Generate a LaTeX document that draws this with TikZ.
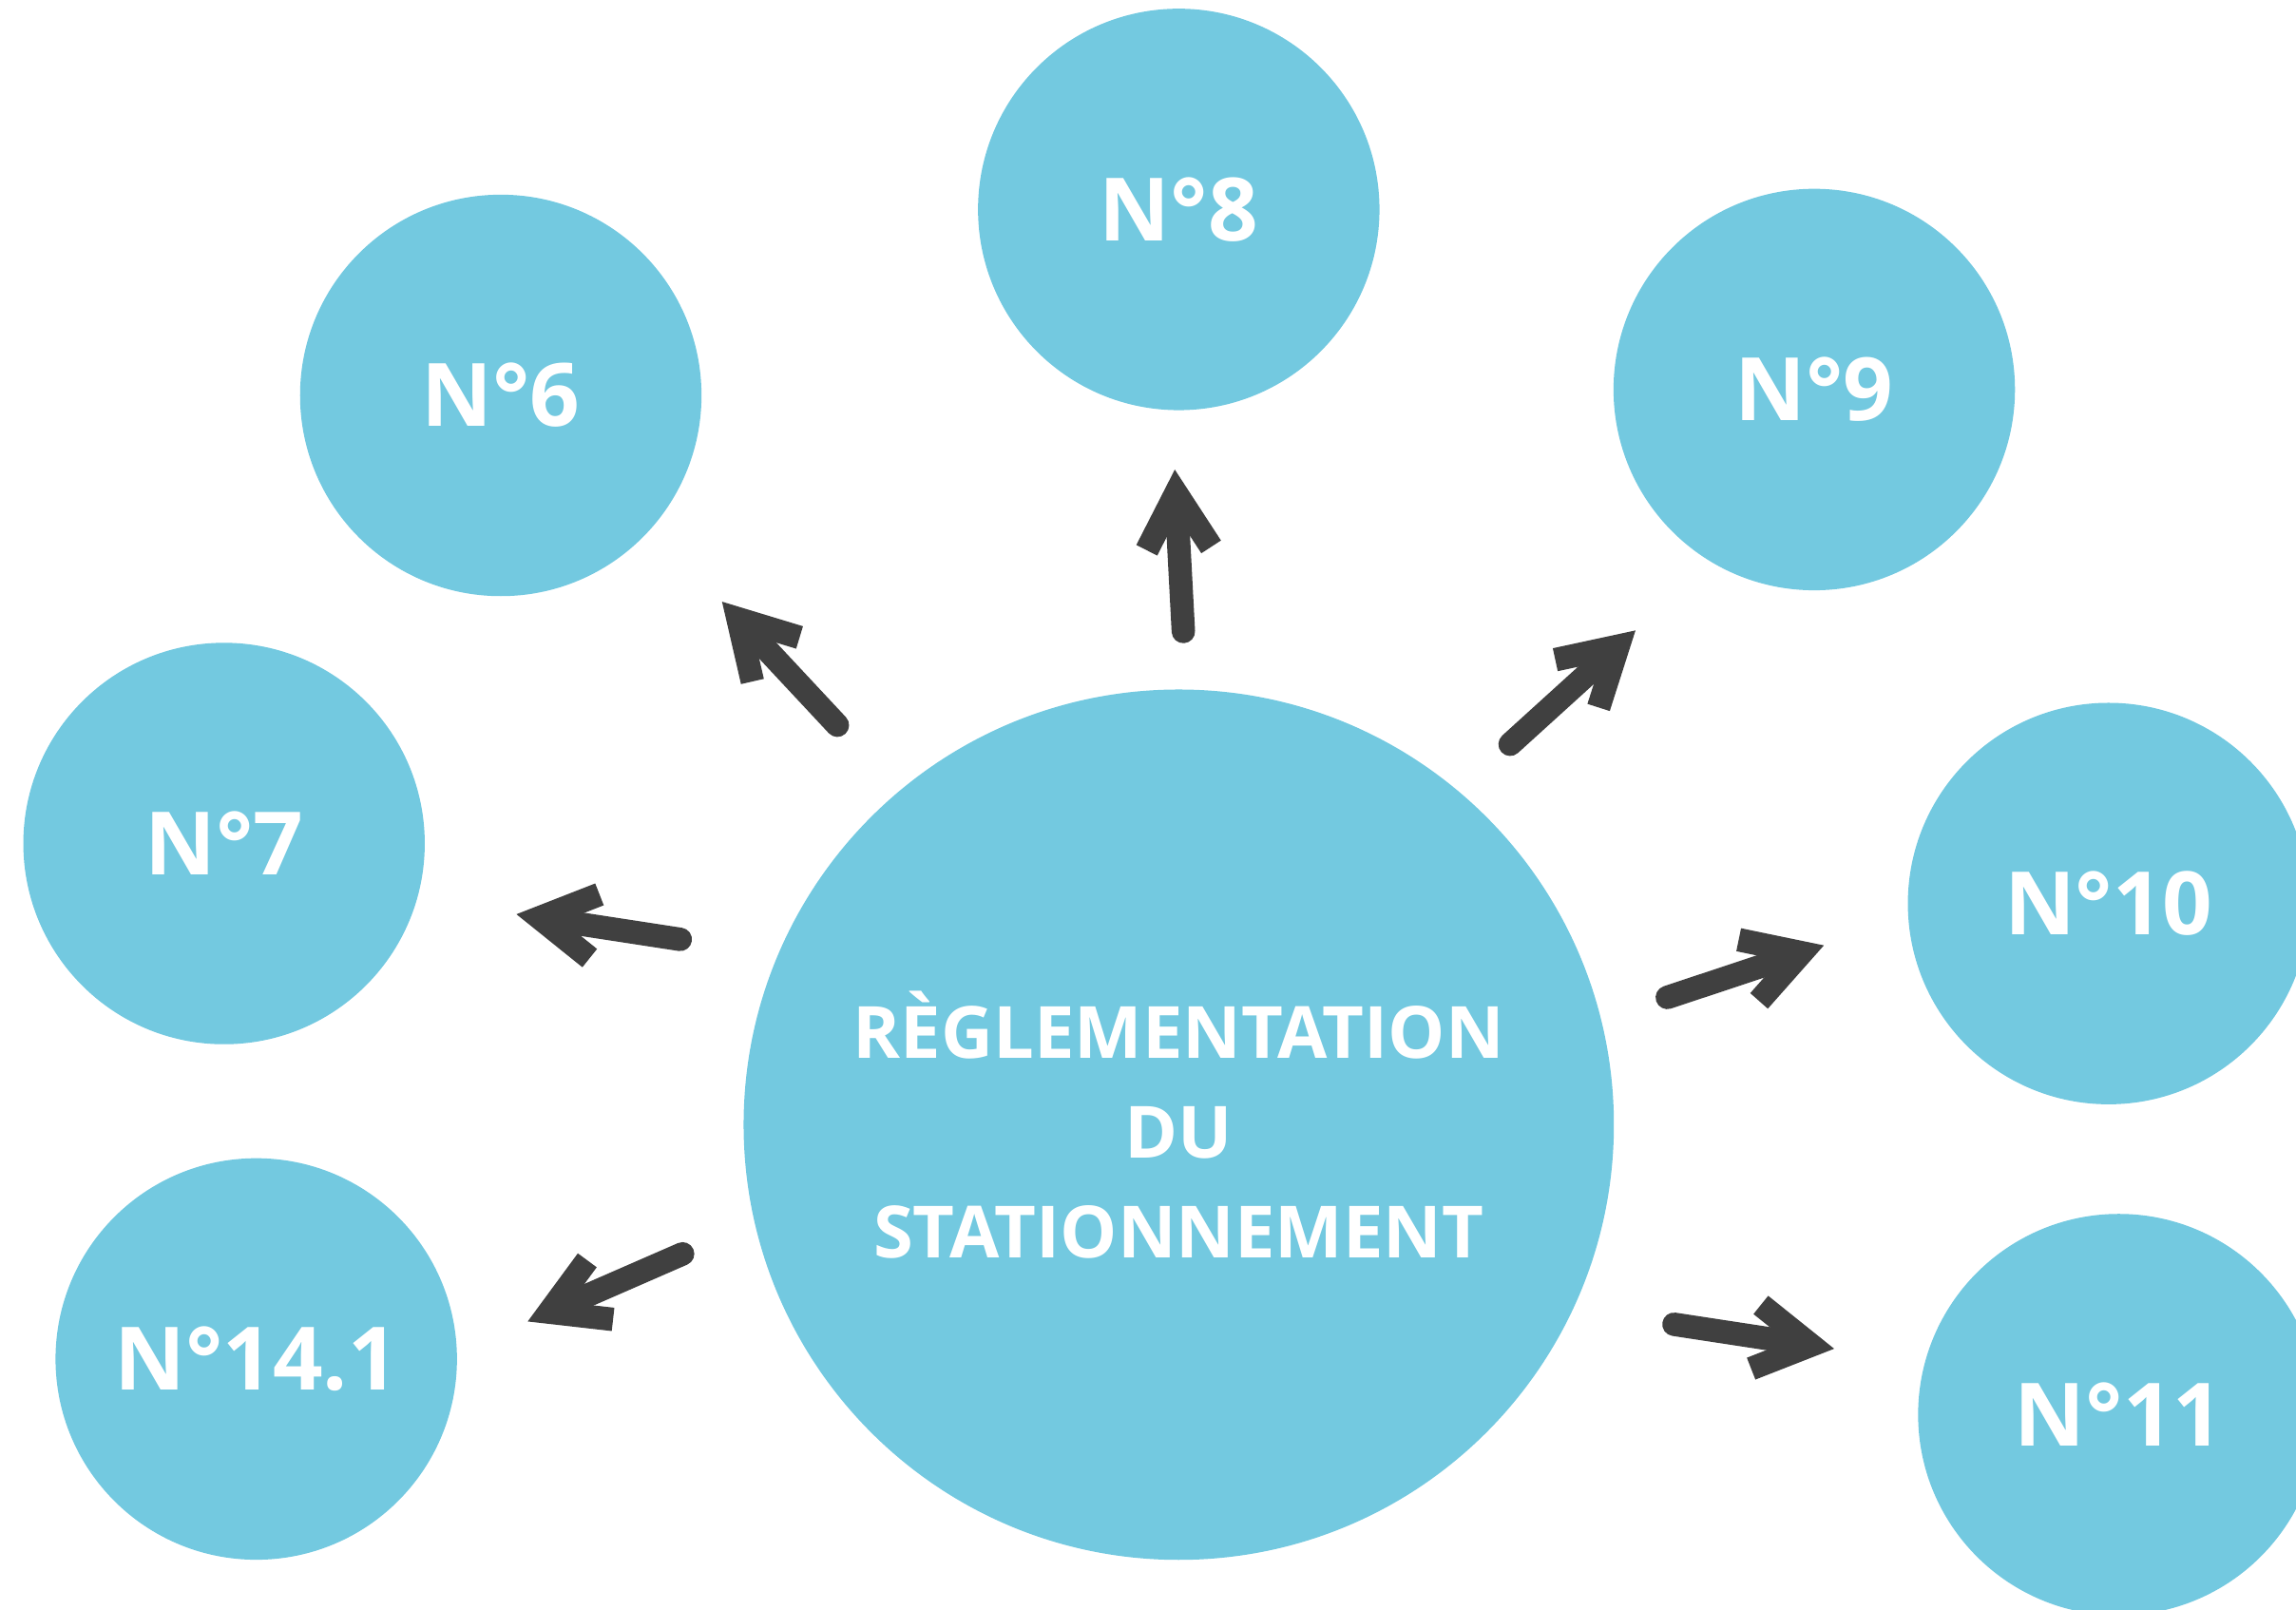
\documentclass[tikz,border=0pt]{standalone}
\usepackage{fontspec}
\setmainfont{Open Sans}
\usetikzlibrary{arrows.meta}
\definecolor{bulle}{HTML}{73C9E0}
\definecolor{fleche}{HTML}{404040}
\begin{document}
\begin{tikzpicture}[x=0.01cm, y=-0.01cm,
  petite/.style={circle, fill=bulle, inner sep=0pt, minimum size=2.74cm, text=white, font=\fontsize{17}{20}\selectfont\bfseries},
  grande/.style={circle, fill=bulle, inner sep=0pt, minimum size=5.94cm, text=white, align=center, font=\fontsize{14}{19.4}\selectfont\bfseries},
  renvoi/.style={-{Straight Barb[length=0.38cm, width=0.44cm]}, draw=fleche, line width=0.16cm, line cap=round, line join=round}]
\useasboundingbox (0,0) rectangle (1568,1099);
\clip (0,0) rectangle (1568,1099);
\node[grande] (regl) at (805,768) {RÈGLEMENTATION\\DU\\STATIONNEMENT};
\node[petite] (n8) at (805,143) {N°8};
\node[petite] (n6) at (342,270) {N°6};
\node[petite] (n9) at (1239,266) {N°9};
\node[petite] (n7) at (153,576) {N°7};
\node[petite] (n10) at (1440,617) {N°10};
\node[petite] (n11) at (1447,966) {N°11};
\node[petite] (n14) at (175,928) {N°14.1};
\draw[renvoi, shorten <=0.39cm, shorten >=0.40cm] (regl.89) -- (n8.-92);
\draw[renvoi, shorten <=0.61cm, shorten >=0.69cm] (regl.130) -- (n6.-41);
\draw[renvoi, shorten <=0.47cm, shorten >=0.69cm] (regl.50) -- (n9.-121);
\draw[renvoi, shorten <=0.67cm, shorten >=0.68cm] (regl.157) -- (n7.-16);
\draw[renvoi, shorten <=0.47cm, shorten >=0.60cm] (regl.14) -- (n10.184);
\draw[renvoi, shorten <=0.53cm, shorten >=0.52cm] (regl.193) -- (n14.2);
\draw[renvoi, shorten <=0.69cm, shorten >=0.62cm] (regl.-25) -- (n11.165);
\end{tikzpicture}
\end{document}
